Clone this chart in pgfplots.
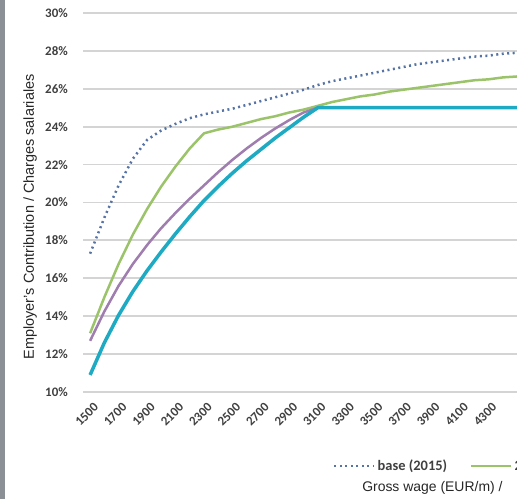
\documentclass[border=0pt]{standalone}
\usepackage{pgfplots}
\pgfplotsset{compat=1.18}
\usepackage{pgfplotstable}
\usepackage{fontspec}
\setmainfont{Liberation Sans}
\newfontfamily\carlito{Carlito}

\definecolor{basecol}{RGB}{85,115,165}
\definecolor{greencol}{RGB}{155,195,105}
\definecolor{purplecol}{RGB}{160,125,175}
\definecolor{tealcol}{RGB}{30,170,195}
\definecolor{gridcol}{RGB}{212,212,212}
\definecolor{ticktext}{RGB}{64,64,64}
\definecolor{stripcol}{RGB}{138,144,150}

% employer's contribution rate (%) by gross monthly wage
\pgfplotstableread{
wage  base   green  purple teal
1500  17.3   13.1   12.7   10.9
1600  19.2   15.0   14.25  12.6
1700  20.9   16.75  15.6   14.05
1800  22.3   18.3   16.75  15.3
1900  23.3   19.65  17.75  16.4
2000  23.8   20.85  18.65  17.4
2100  24.15  21.9   19.45  18.35
2200  24.45  22.85  20.2   19.25
2300  24.65  23.65  20.9   20.1
2400  24.8   23.85  21.6   20.85
2500  24.95  24.0   22.25  21.55
2600  25.15  24.2   22.85  22.2
2700  25.35  24.4   23.4   22.8
2800  25.55  24.55  23.9   23.4
2900  25.75  24.75  24.35  23.95
3000  25.95  24.9   24.75  24.5
3100  26.2   25.1   25.0   25.0
3200  26.4   25.3   25.0   25.0
3300  26.55  25.45  25.0   25.0
3400  26.7   25.6   25.0   25.0
3500  26.85  25.7   25.0   25.0
3600  27.0   25.85  25.0   25.0
3700  27.15  25.95  25.0   25.0
3800  27.3   26.05  25.0   25.0
3900  27.4   26.15  25.0   25.0
4000  27.5   26.25  25.0   25.0
4100  27.6   26.35  25.0   25.0
4200  27.7   26.45  25.0   25.0
4300  27.75  26.5   25.0   25.0
4400  27.85  26.6   25.0   25.0
4500  27.9   26.65  25.0   25.0
}\contrib

\begin{document}
\begin{tikzpicture}
\useasboundingbox (0,0) rectangle (517bp,499bp);
\clip (0,0) rectangle (517bp,499bp);
\fill[stripcol] (0,0) rectangle (5bp,499bp);
\begin{axis}[
  at={(83bp,107bp)}, anchor=south west,
  scale only axis, width=434bp, height=379bp,
  xmin=1450, xmax=4500, ymin=10, ymax=30,
  axis line style={draw=none},
  major tick length=0pt,
  ymajorgrids, major grid style={gridcol, line width=1.8bp},
  xtick={1500,1700,...,4300},
  ytick={10,12,...,30},
  yticklabel={\pgfmathprintnumber{\tick}\%},
  /pgf/number format/assume math mode=true,
  /pgf/number format/1000 sep={},
  tick label style={font=\carlito\bfseries\fontsize{13}{14}\selectfont, text=ticktext, inner sep=0pt},
  xticklabel style={rotate=45, anchor=north east, xshift=-5bp, yshift=-9bp},
  yticklabel style={anchor=east, xshift=-15bp},
  xlabel={Gross wage (EUR/m) /},
  xlabel style={at={(axis description cs:0.643,-0.253)}, anchor=west, inner sep=0pt,
    font=\fontsize{14}{16}\selectfont, text=black!85},
  ylabel={Employer's Contribution / Charges salariales},
  ylabel style={at={(axis description cs:-0.122,0.462)}, anchor=center, inner sep=0pt,
    font=\fontsize{14.5}{16}\selectfont, text=black!85},
  legend columns=-1,
  legend style={at={(axis description cs:0.576,-0.195)}, anchor=west,
    draw=none, fill=none, inner sep=0pt,
    font=\carlito\bfseries\fontsize{14.5}{16}\selectfont, text=ticktext,
    /tikz/every even column/.append style={column sep=21bp}},
  legend image code/.code={\draw[#1] (0bp,0bp) -- (40bp,0bp);},
]
\addplot[basecol, line width=2.5bp, dash pattern=on 2bp off 3.5bp] table[x=wage, y=base] {\contrib};
\addlegendentry{base (2015)}
\addplot[greencol, line width=2.5bp] table[x=wage, y=green] {\contrib};
\addlegendentry{2016}
\addplot[purplecol, line width=2.5bp, forget plot] table[x=wage, y=purple] {\contrib};
\addplot[tealcol, line width=3.5bp, forget plot] table[x=wage, y=teal] {\contrib};
\end{axis}
\end{tikzpicture}
\end{document}
